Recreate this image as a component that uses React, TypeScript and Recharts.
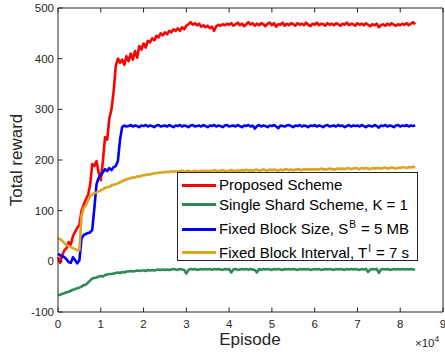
import { Line, LineChart, XAxis, YAxis } from 'recharts'

const EPISODE_STEP = 500
const AXIS = '#262626'
const FONT = '"Liberation Sans", Arial, Helvetica, sans-serif'

// total reward, one value every 500 episodes (0 .. 83500)
const proposed = [
  8, -3, 12, 22, 26, 38, 33, 50, 58, 66,
  72, 100, 112, 122, 130, 150, 192, 188, 198, 175,
  160, 198, 245, 240, 282, 300, 335, 385, 400, 392,
  398, 388, 405, 395, 410, 398, 415, 402, 425, 418,
  430, 422, 435, 432, 440, 436, 445, 442, 450, 446,
  452, 448, 455, 452, 458, 455, 460, 455, 462, 458,
  465, 468, 472, 467, 470, 466, 469, 463, 466, 462,
  465, 460, 463, 455, 464, 467, 465, 468, 466, 469,
  467, 470, 465, 468, 471, 466, 469, 464, 468, 472,
  467, 470, 465, 469, 466, 470, 468, 464, 469, 471,
  466, 470, 463, 468, 467, 471, 465, 469, 466, 470,
  468, 465, 470, 467, 469, 466, 471, 467, 464, 469,
  467, 471, 466, 469, 468, 465, 470, 467, 469, 466,
  470, 468, 465, 469, 467, 471, 466, 469, 468, 465,
  470, 467, 469, 466, 470, 467, 464, 468, 466, 469,
  462, 466, 468, 465, 469, 466, 470, 467, 465, 468,
  466, 469, 467, 470, 466, 469, 472, 468,
]

const singleShard = [
  -67, -66, -64, -63, -61, -60, -58, -56, -55, -53,
  -52, -50, -47, -46, -42, -38, -34, -33, -32, -30,
  -29, -30, -27, -26, -25, -25, -24, -23, -22, -23,
  -21, -22, -20, -20, -19, -20, -19, -18, -19, -18,
  -18, -19, -17, -18, -17, -18, -17, -16, -17, -16,
  -17, -16, -17, -16, -15, -16, -17, -15, -16, -17,
  -24, -17, -15, -16, -15, -17, -16, -15, -16, -15,
  -16, -15, -17, -15, -16, -15, -16, -17, -15, -16,
  -15, -22, -16, -15, -17, -16, -15, -16, -15, -17,
  -15, -16, -17, -22, -15, -17, -15, -16, -15, -16,
  -17, -15, -16, -15, -16, -17, -15, -16, -15, -16,
  -15, -16, -17, -15, -16, -15, -16, -15, -17, -16,
  -15, -16, -15, -17, -16, -15, -16, -15, -16, -17,
  -15, -16, -15, -16, -17, -15, -16, -15, -16, -15,
  -16, -17, -15, -16, -15, -21, -16, -15, -16, -15,
  -23, -16, -15, -16, -15, -17, -16, -15, -16, -15,
  -16, -15, -16, -15, -16, -15, -16, -16,
]

const fixedSize = [
  15, 12, 10, 8, 4, -2, -3, 8, 2, -4,
  2, 45, 52, 54, 56, 57, 62, 105, 152, 165,
  170, 176, 182, 178, 184, 180, 186, 188, 198, 240,
  265, 268, 266, 267, 269, 266, 268, 267, 265, 268,
  267, 269, 266, 268, 267, 265, 268, 269, 266, 267,
  268, 266, 269, 267, 265, 268, 267, 269, 266, 268,
  267, 265, 268, 269, 266, 267, 268, 266, 269, 267,
  265, 268, 267, 269, 266, 268, 267, 265, 268, 269,
  266, 267, 268, 266, 269, 267, 265, 268, 267, 269,
  266, 268, 262, 267, 269, 266, 268, 267, 265, 268,
  267, 269, 266, 263, 268, 267, 266, 268, 269, 267,
  265, 268, 267, 269, 266, 268, 267, 265, 268, 267,
  269, 266, 268, 267, 265, 268, 269, 266, 267, 268,
  266, 269, 267, 268, 265, 267, 269, 266, 268, 267,
  268, 266, 269, 267, 265, 268, 267, 266, 269, 267,
  264, 268, 267, 269, 266, 268, 267, 265, 268, 269,
  266, 268, 267, 269, 266, 268, 267, 268,
]

const fixedInterval = [
  45, 44, 40, 36, 32, 30, 28, 26, 24, 22,
  22, 90, 105, 110, 120, 128, 132, 135, 136, 138,
  140, 142, 145, 146, 147, 150, 151, 152, 154, 156,
  158, 160, 162, 163, 164, 166, 165, 168, 167, 169,
  170, 170, 172, 171, 173, 174, 174, 175, 175, 176,
  176, 177, 176, 178, 177, 178, 177, 178, 179, 177,
  178, 179, 177, 178, 179, 178, 177, 179, 178, 179,
  178, 179, 178, 180, 179, 178, 179, 180, 179, 178,
  179, 180, 179, 178, 180, 179, 180, 179, 181, 179,
  180, 179, 180, 181, 179, 180, 181, 180, 179, 181,
  180, 181, 180, 179, 181, 180, 181, 182, 180, 181,
  180, 181, 182, 181, 180, 182, 181, 182, 181, 182,
  181, 182, 181, 183, 182, 181, 182, 183, 182, 181,
  182, 183, 182, 183, 182, 183, 184, 182, 183, 184,
  183, 182, 184, 183, 184, 183, 182, 184, 183, 184,
  184, 183, 184, 185, 183, 184, 185, 184, 183, 185,
  184, 186, 185, 184, 186, 185, 187, 185,
]

const xTicks = [0, 10000, 20000, 30000, 40000, 50000, 60000, 70000, 80000, 90000]
const yTicks = [-100, 0, 100, 200, 300, 400, 500]

const series = [
  { key: 'proposed', color: '#ff0000' },
  { key: 'singleShard', color: '#2e8b57' },
  { key: 'fixedSize', color: '#0000ff' },
  { key: 'fixedInterval', color: '#daa520' },
]

const rows = proposed.map((value, index) => ({
  episode: index * EPISODE_STEP,
  proposed: value,
  singleShard: singleShard[index],
  fixedSize: fixedSize[index],
  fixedInterval: fixedInterval[index],
}))

const TICK_LEN = 4.5

function BottomTick({ x, y, payload }: any) {
  return (
    <g>
      <line x1={x} x2={x} y1={y} y2={y - TICK_LEN} stroke={AXIS} />
      <text x={x} y={y + 15.5} textAnchor="middle" fontSize={11.5} fill={AXIS} fontFamily={FONT}>
        {payload.value / 10000}
      </text>
    </g>
  )
}

function TopTick({ x, y }: any) {
  return <line x1={x} x2={x} y1={y} y2={y + TICK_LEN} stroke={AXIS} />
}

function LeftTick({ x, y, payload }: any) {
  return (
    <g>
      <line x1={x} x2={x + TICK_LEN} y1={y} y2={y} stroke={AXIS} />
      <text x={x - 4} y={y + 4} textAnchor="end" fontSize={11.5} fill={AXIS} fontFamily={FONT}>
        {payload.value}
      </text>
    </g>
  )
}

function RightTick({ x, y }: any) {
  return <line x1={x} x2={x - TICK_LEN} y1={y} y2={y} stroke={AXIS} />
}

const sup = { fontSize: 10, position: 'relative' as const, top: -6, marginLeft: 1, marginRight: 1 }

const legendRows = [
  { color: '#ff0000', center: 12, label: <>Proposed Scheme</> },
  { color: '#2e8b57', center: 31.5, label: <>Single Shard Scheme, K = 1</> },
  {
    color: '#0000ff',
    center: 56,
    label: (
      <>
        Fixed Block Size, S<span style={sup}>B</span> = 5 MB
      </>
    ),
  },
  {
    color: '#daa520',
    center: 79.5,
    label: (
      <>
        Fixed Block Interval, T<span style={sup}>I</span> = 7 s
      </>
    ),
  },
]

export default function App() {
  return (
    <div
      style={{
        position: 'absolute',
        left: 0,
        top: 0,
        width: 445,
        height: 354,
        background: '#fff',
        fontFamily: FONT,
        color: AXIS,
      }}
    >
      <LineChart
        width={445}
        height={354}
        data={rows}
        margin={{ top: 7, right: 1, bottom: 41, left: 57 }}
      >
        <XAxis
          dataKey="episode"
          type="number"
          domain={[0, 90000]}
          ticks={xTicks}
          interval={0}
          height={1}
          tickSize={0}
          tickMargin={0}
          tick={BottomTick}
          axisLine={{ stroke: AXIS }}
          tickLine={false}
        />
        <XAxis
          xAxisId="top"
          orientation="top"
          dataKey="episode"
          type="number"
          domain={[0, 90000]}
          ticks={xTicks}
          interval={0}
          height={1}
          tickSize={0}
          tickMargin={0}
          tick={TopTick}
          axisLine={{ stroke: AXIS }}
          tickLine={false}
        />
        <YAxis
          type="number"
          domain={[-100, 500]}
          ticks={yTicks}
          interval={0}
          width={1}
          tickSize={0}
          tickMargin={0}
          tick={LeftTick}
          axisLine={{ stroke: AXIS }}
          tickLine={false}
        />
        <YAxis
          yAxisId="right"
          orientation="right"
          type="number"
          domain={[-100, 500]}
          ticks={yTicks}
          interval={0}
          width={1}
          tickSize={0}
          tickMargin={0}
          tick={RightTick}
          axisLine={{ stroke: AXIS }}
          tickLine={false}
        />
        {series.map((s) => (
          <Line
            key={s.key}
            dataKey={s.key}
            type="linear"
            dot={false}
            activeDot={false}
            stroke={s.color}
            strokeWidth={2.6}
            strokeLinejoin="round"
            isAnimationActive={false}
          />
        ))}
      </LineChart>

      <div
        style={{
          position: 'absolute',
          left: 200,
          top: 332.6,
          width: 100,
          lineHeight: '14px',
          textAlign: 'center',
          fontSize: 17,
        }}
      >
        Episode
      </div>
      <div
        style={{
          position: 'absolute',
          left: 17 - 60,
          top: 159.5 - 10,
          width: 120,
          lineHeight: '20px',
          textAlign: 'center',
          fontSize: 17,
          transform: 'rotate(-90deg)',
        }}
      >
        Total reward
      </div>
      <div style={{ position: 'absolute', left: 415, top: 336, fontSize: 11.5, lineHeight: '14px' }}>
        ×10<span style={{ fontSize: 8.5, position: 'relative', top: -5 }}>4</span>
      </div>

      <div
        style={{
          position: 'absolute',
          left: 177,
          top: 172,
          width: 241,
          height: 89,
          boxSizing: 'border-box',
          border: `1px solid ${AXIS}`,
          background: '#fff',
        }}
      >
        {legendRows.map((row, i) => (
          <div key={i}>
            <div
              style={{
                position: 'absolute',
                left: 4,
                top: row.center - 1.5,
                width: 34,
                height: 3,
                background: row.color,
              }}
            />
            <div
              style={{
                position: 'absolute',
                left: 41,
                top: row.center - 10,
                height: 20,
                lineHeight: '20px',
                fontSize: 15,
                whiteSpace: 'nowrap',
                color: '#000',
              }}
            >
              {row.label}
            </div>
          </div>
        ))}
      </div>
    </div>
  )
}
